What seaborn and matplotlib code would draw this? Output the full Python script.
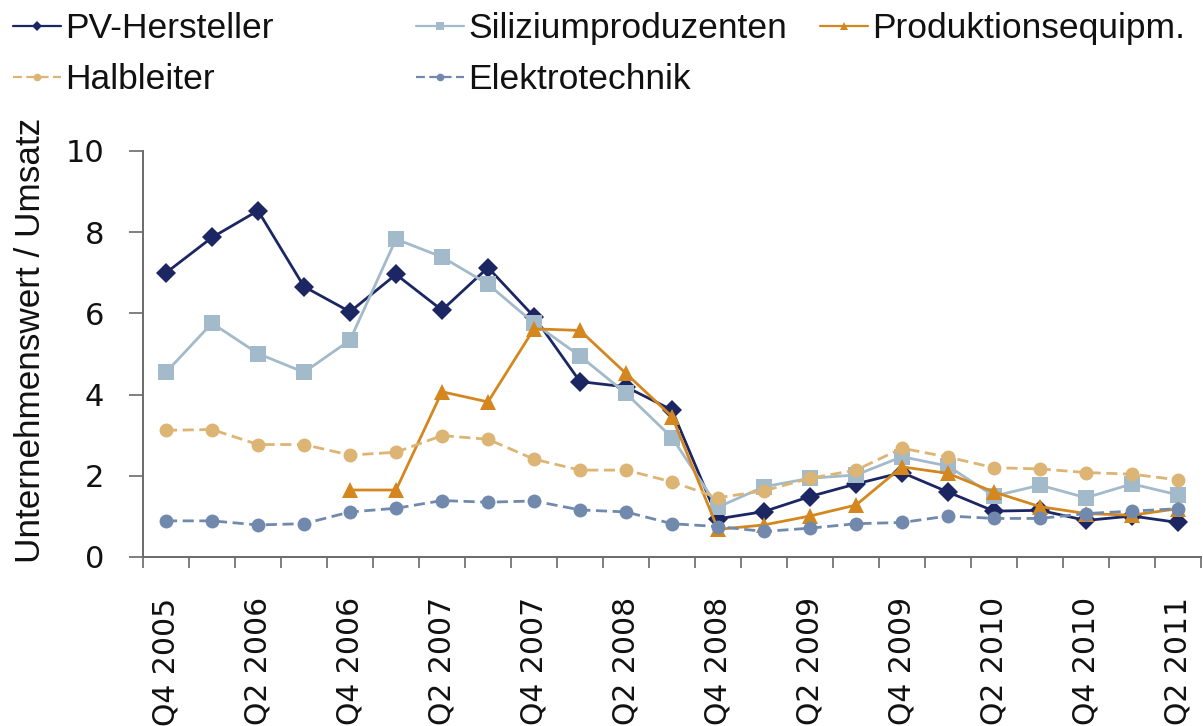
import numpy as np
import pandas as pd
import matplotlib
matplotlib.use("Agg")
import matplotlib.pyplot as plt
from matplotlib.lines import Line2D
import seaborn as sns

quarters = ["Q4 2005", "Q1 2006", "Q2 2006", "Q3 2006", "Q4 2006", "Q1 2007", "Q2 2007",
            "Q3 2007", "Q4 2007", "Q1 2008", "Q2 2008", "Q3 2008", "Q4 2008", "Q1 2009",
            "Q2 2009", "Q3 2009", "Q4 2009", "Q1 2010", "Q2 2010", "Q3 2010", "Q4 2010",
            "Q1 2011", "Q2 2011"]

pv_hersteller = [7.00, 7.87, 8.53, 6.66, 6.04, 6.96, 6.08, 7.13, 5.92, 4.32, 4.19, 3.62,
                 0.94, 1.12, 1.49, 1.80, 2.08, 1.60, 1.13, 1.15, 0.90, 1.01, 0.85]
silizium = [4.55, 5.76, 5.01, 4.55, 5.34, 7.83, 7.39, 6.72, 5.76, 4.95, 4.03, 2.94,
            1.23, 1.73, 1.94, 2.02, 2.47, 2.24, 1.50, 1.77, 1.46, 1.80, 1.53]
produktion = [np.nan, np.nan, np.nan, np.nan, 1.65, 1.65, 4.07, 3.82, 5.62, 5.58, 4.52, 3.46,
              0.68, 0.79, 1.01, 1.28, 2.22, 2.06, 1.60, 1.24, 1.07, 1.03, 1.19]
halbleiter = [3.12, 3.14, 2.77, 2.77, 2.51, 2.58, 2.99, 2.90, 2.41, 2.14, 2.14, 1.85,
              1.46, 1.63, 1.94, 2.14, 2.68, 2.46, 2.20, 2.17, 2.08, 2.04, 1.90]
elektro = [0.89, 0.89, 0.79, 0.82, 1.11, 1.20, 1.39, 1.35, 1.38, 1.16, 1.11, 0.82,
           0.75, 0.63, 0.71, 0.82, 0.85, 1.01, 0.95, 0.95, 1.07, 1.13, 1.19]

series_names = ["PV-Hersteller", "Siliziumproduzenten", "Produktionsequipm.",
                "Halbleiter", "Elektrotechnik"]
y_label = "Unternehmenswert / Umsatz"

sns.set_style("white")
plt.rcParams["font.family"] = ["DejaVu Sans"]

fig = plt.figure(figsize=(12.03, 7.26), dpi=100)
ax = fig.add_axes([143 / 1203, 169 / 726, 1058 / 1203, 406 / 726])

x = np.arange(len(quarters))
styles = [
    (pv_hersteller, "#1b2663", "D", 10, "-"),
    (silizium, "#a2bac9", "s", 11, "-"),
    (produktion, "#d4871f", "^", 11.5, "-"),
    (halbleiter, "#dcb473", "o", 10, (0, (4, 2))),
    (elektro, "#7089ad", "o", 10, (0, (4, 2))),
]

handles = []
for (vals, col, mk, ms, ls), name in zip(styles, series_names):
    df = pd.DataFrame({"x": x, "y": vals}).dropna()
    sns.lineplot(data=df, x="x", y="y", ax=ax, color=col, marker=mk, markersize=ms,
                 markeredgecolor=col, markeredgewidth=0, linewidth=2.0,
                 linestyle=ls, legend=False)
    handles.append(Line2D([0], [0], color=col, marker=mk, markersize=5.5,
                          markeredgewidth=0, linewidth=1.6, linestyle=ls, label=name))

ax.set_xlim(-0.5, len(quarters) - 0.5)
ax.set_ylim(0, 10)
ax.set_yticks([0, 2, 4, 6, 8, 10])
ax.set_xticks(x[::2])
ax.set_xticklabels(quarters[::2], rotation=90, fontsize=21.5, color="#111111")
ax.set_xticks(np.arange(-0.5, len(quarters), 1), minor=True)
ax.tick_params(axis="x", which="major", length=0, pad=29)
ax.tick_params(axis="x", which="minor", length=8, width=1.2, color="#6a6a6a", direction="out",
               bottom=True)
ax.tick_params(axis="y", which="major", length=10, width=1.2, color="#6a6a6a", direction="out",
               left=True, labelsize=22, labelcolor="#111111", pad=18)
for s in ["top", "right"]:
    ax.spines[s].set_visible(False)
for s in ["left", "bottom"]:
    ax.spines[s].set_color("#6a6a6a")
    ax.spines[s].set_linewidth(1.4)
ax.set_xlabel("")
ax.set_ylabel(y_label, fontsize=25.3, family=["Liberation Sans", "DejaVu Sans"],
              color="#111111")
ax.yaxis.set_label_coords(-96 / 1058, 0.5 + 14 / 406)
ax.grid(False)

leg_font = {"family": ["Liberation Sans Narrow", "Liberation Sans", "DejaVu Sans"], "size": 25.5}
cols = [([handles[0], handles[3]], 13), ([handles[1], handles[4]], 416), ([handles[2]], 820)]
for hs, px in cols:
    lg = fig.legend(handles=hs, loc="upper left", bbox_to_anchor=(px / 1203, 1 - 12 / 726),
                    frameon=False, prop=leg_font, handlelength=1.35, handletextpad=0.12,
                    borderpad=0, borderaxespad=0, labelspacing=0.52)
    for t in lg.get_texts():
        t.set_color("#111111")

fig.savefig("out.png", dpi=100)
